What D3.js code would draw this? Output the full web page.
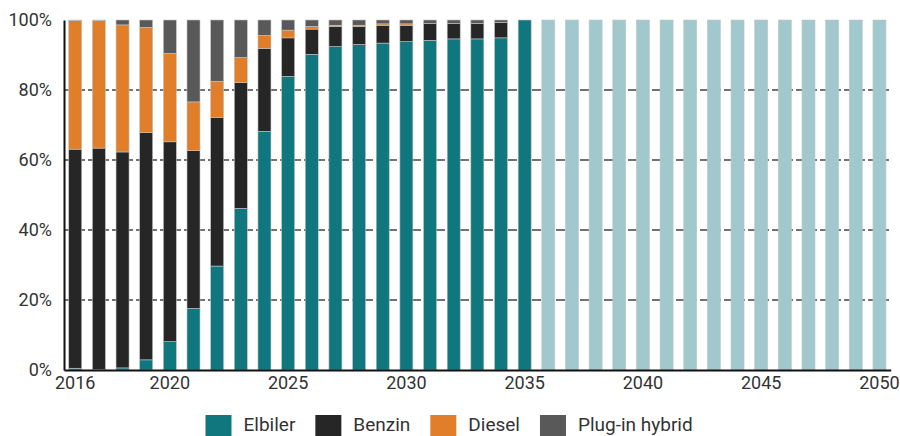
<!DOCTYPE html>
<html>
<head>
<meta charset="utf-8">
<script src="https://cdn.jsdelivr.net/npm/d3@7"></script>
<style>
  body { margin: 0; background: #fff; }
  text { font-family: Roboto, "Noto Sans", sans-serif; fill: #333; }
</style>
</head>
<body>
<div id="chart"></div>
<script>
// andel af nybilsalg, pct.
var years = d3.range(2016, 2051);
var elbiler = [0.5, 0.1, 0.6, 2.9, 8.1, 17.6, 29.7, 46.2, 68.2, 83.9, 90.2, 92.4, 93.0, 93.4, 93.8, 94.2, 94.6, 94.6, 94.9, 100,
               100, 100, 100, 100, 100, 100, 100, 100, 100, 100, 100, 100, 100, 100, 100];
var benzin  = [62.6, 63.3, 61.7, 64.9, 57.1, 45.1, 42.5, 35.9, 23.7, 11.0, 7.2, 5.7, 5.1, 5.1, 4.7, 4.8, 4.4, 4.4, 4.4, 0,
               0, 0, 0, 0, 0, 0, 0, 0, 0, 0, 0, 0, 0, 0, 0];
var diesel  = [36.7, 36.4, 36.3, 30.1, 25.3, 13.9, 10.3, 7.2, 3.7, 2.2, 0.8, 0.4, 0.4, 0.4, 0.4, 0, 0, 0, 0, 0,
               0, 0, 0, 0, 0, 0, 0, 0, 0, 0, 0, 0, 0, 0, 0];
var plugin  = [0.2, 0.2, 1.4, 2.1, 9.5, 23.4, 17.5, 10.7, 4.4, 2.9, 1.8, 1.5, 1.5, 1.1, 1.1, 1.0, 1.0, 1.0, 0.7, 0,
               0, 0, 0, 0, 0, 0, 0, 0, 0, 0, 0, 0, 0, 0, 0];
var projectedFrom = 2036;

var seriesNames = ["Elbiler", "Benzin", "Diesel", "Plug-in hybrid"];
var yTicks = [0, 20, 40, 60, 80, 100];
var xTicks = [2016, 2020, 2025, 2030, 2035, 2040, 2045, 2050];

var width = 900, height = 436;
var colors = d3.scaleOrdinal().domain(seriesNames)
    .range(["#10777f", "#262626", "#e07e2a", "#595959"]);
var projectedColor = "#a1c9cd";

var rows = years.map(function(y, i) {
    return {year: y, "Elbiler": elbiler[i], "Benzin": benzin[i], "Diesel": diesel[i], "Plug-in hybrid": plugin[i]};
});
var stacked = d3.stack().keys(seriesNames)(rows);

var x = d3.scaleBand().domain(years).range([64, 890.7]).paddingInner(0.45).paddingOuter(0.2);
var y = d3.scaleLinear().domain([0, 100]).range([370, 20]);

var svg = d3.select("#chart").append("svg")
    .attr("width", width)
    .attr("height", height);

// gridlines
svg.append("g").selectAll("line")
    .data(yTicks.filter(function(t) { return t > 0 && t < 100; }))
    .enter().append("line")
    .attr("x1", 64).attr("x2", 890)
    .attr("y1", function(d) { return y(d); })
    .attr("y2", function(d) { return y(d); })
    .attr("stroke", "#444")
    .attr("stroke-width", 1.5)
    .attr("stroke-dasharray", "9,3");

// bars
svg.append("g").selectAll("g")
    .data(stacked).enter().append("g")
    .each(function(s) {
        d3.select(this).selectAll("rect")
            .data(s.filter(function(d) { return d[1] - d[0] > 0; }))
            .enter().append("rect")
            .attr("x", function(d) { return x(d.data.year); })
            .attr("width", x.bandwidth())
            .attr("y", function(d) { return y(d[1]); })
            .attr("height", function(d) { return y(d[0]) - y(d[1]); })
            .attr("fill", function(d) {
                return d.data.year >= projectedFrom ? projectedColor : colors(s.key);
            })
            .attr("stroke", "#c4c4c4")
            .attr("stroke-width", 0.6);
    });

// axes
var yAxis = svg.append("g").attr("transform", "translate(64,0)")
    .call(d3.axisLeft(y).tickValues(yTicks).tickFormat(function(d) { return d + "%"; }).tickSize(0).tickPadding(12));
yAxis.select(".domain").attr("stroke", "#111").attr("stroke-width", 2);
yAxis.selectAll("text").attr("font-size", 18).attr("font-family", null);

var xAxis = svg.append("g").attr("transform", "translate(0,370)")
    .call(d3.axisBottom(x).tickValues(xTicks).tickSize(0).tickPadding(6).tickSizeOuter(0));
xAxis.select(".domain").attr("stroke", "#111").attr("stroke-width", 2);
xAxis.selectAll("text").attr("font-size", 18).attr("font-family", null);

// legend
var legend = svg.append("g").attr("transform", "translate(205.5,0)");
var lx = 0;
seriesNames.forEach(function(name) {
    var item = legend.append("g").attr("transform", "translate(" + lx + ",0)");
    item.append("rect")
        .attr("x", 0).attr("y", 415)
        .attr("width", 26).attr("height", 21)
        .attr("fill", colors(name));
    var t = item.append("text")
        .attr("x", 38).attr("y", 430.5)
        .attr("font-size", 19)
        .text(name);
    lx += 38 + t.node().getComputedTextLength() + 20;
});
</script>
</body>
</html>
